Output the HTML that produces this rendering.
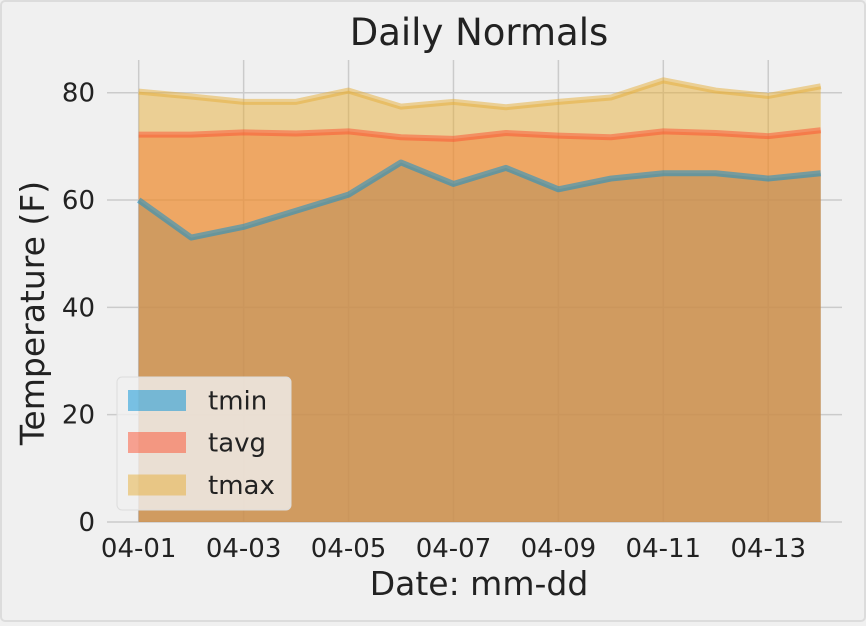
<!DOCTYPE html>
<html><head><meta charset="utf-8"><style>
body{margin:0;background:#f0f0f0;font-family:"DejaVu Sans","Liberation Sans",sans-serif;}
svg text{font-family:"DejaVu Sans","Liberation Sans",sans-serif;}
</style></head><body>
<svg id="chart" width="866" height="622" xmlns="http://www.w3.org/2000/svg">
<rect x="1" y="1" width="864" height="620" rx="4" fill="#f0f0f0" stroke="#dcdcdc" stroke-width="2"/>
<g id="grid"></g>
<g id="areas"></g>
<g id="axes"></g>
<text x="479" y="45" font-size="37" text-anchor="middle" fill="#222">Daily Normals</text>
<text transform="translate(44,313) rotate(-90)" font-size="33" text-anchor="middle" fill="#222">Temperature (F)</text>
<text x="479" y="595" font-size="33" text-anchor="middle" fill="#222">Date: mm-dd</text>
<g id="legend"></g>
</svg>
<script>
const dates=["04-01","04-02","04-03","04-04","04-05","04-06","04-07","04-08","04-09","04-10","04-11","04-12","04-13","04-14"];
const tmin=[60,53,55,58,61,67,63,66,62,64,65,65,64,65];
const tavg=[72.2,72.2,72.6,72.4,72.8,71.7,71.4,72.5,72.0,71.7,72.8,72.5,71.9,73.0];
const tmax=[80.2,79.3,78.3,78.3,80.4,77.4,78.3,77.3,78.3,79.1,82.3,80.4,79.4,81.2];
const yTicks=[0,20,40,60,80];
const xTickIdx=[0,2,4,6,8,10,12];
const seriesNames=["tmin","tavg","tmax"];
const ns="http://www.w3.org/2000/svg";
const X0=138.7,X1=820.7,Y0=522,PPU=5.366;
function xs(i){return X0+(X1-X0)*i/(dates.length-1);}
function ys(v){return Y0-v*PPU;}
const colors=["#008fd5","#fc4f30","#e5ae38"];
function mk(tag,attrs,parent){const e=document.createElementNS(ns,tag);for(const k in attrs)e.setAttribute(k,attrs[k]);parent.appendChild(e);return e;}
const grid=document.getElementById('grid');
yTicks.forEach(v=>{const l=mk('line',{x1:107,x2:842,y1:ys(v),y2:ys(v),stroke:'#cbcbcb','stroke-width':1.5},grid);

});
xTickIdx.forEach(i=>{const l=mk('line',{x1:xs(i),x2:xs(i),y1:60,y2:Y0,stroke:'#cbcbcb','stroke-width':1.5},grid);

});
const areas=document.getElementById('areas');
[tmin,tavg,tmax].forEach((s,k)=>{
 let d='M'+xs(0)+','+Y0;s.forEach((v,i)=>d+=' L'+xs(i)+','+ys(v));d+=' L'+xs(s.length-1)+','+Y0+' Z';
 const a=mk('path',{d:d,fill:colors[k],'fill-opacity':0.5},areas);
 
 
});
[tmin,tavg,tmax].forEach((s,k)=>{
 const p=s.map((v,i)=>xs(i)+','+ys(v)).join(' ');
 const l=mk('polyline',{points:p,fill:'none',stroke:colors[k],'stroke-width':6,'stroke-opacity':0.5,'stroke-linejoin':'round'},areas);
 
 
});
const axes=document.getElementById('axes');
yTicks.forEach(v=>{const t=mk('text',{x:95,y:ys(v)+9,'font-size':26,'text-anchor':'end',fill:'#222'},axes);t.textContent=v;

});
xTickIdx.forEach(i=>{const t=mk('text',{x:xs(i),y:557,'font-size':26,'text-anchor':'middle',fill:'#222'},axes);t.textContent=dates[i];

});
const lg=document.getElementById('legend');
const box=mk('rect',{x:117,y:377,width:174,height:133,rx:5,fill:'#f0f0f0','fill-opacity':0.8,stroke:'#dddddd','stroke-width':1},lg);


const rowsY=[400.5,442.5,485];
seriesNames.forEach((n,k)=>{
 const r=mk('rect',{x:128,y:rowsY[k]-10.5,width:58,height:21,fill:colors[k],'fill-opacity':0.5},lg);
 
 
 const t=mk('text',{x:208,y:rowsY[k]+9,'font-size':26,fill:'#222'},lg);t.textContent=n;
 
 
});
</script>
</body></html>
